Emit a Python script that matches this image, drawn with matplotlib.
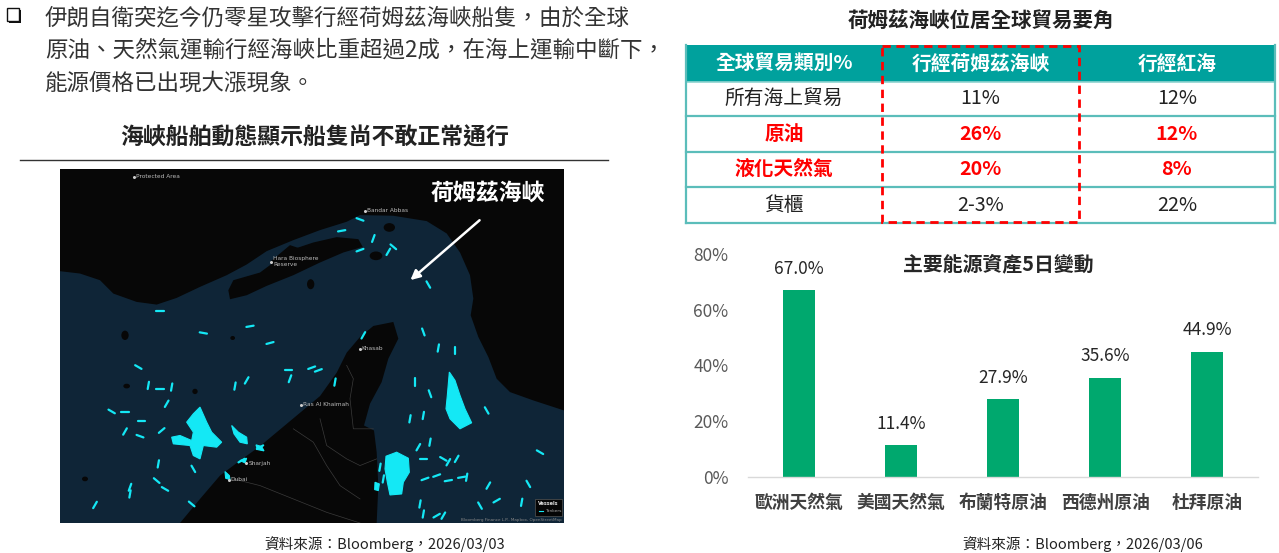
import matplotlib
matplotlib.use("Agg")
import matplotlib.pyplot as plt
from matplotlib.patches import Rectangle, Polygon, Ellipse, FancyArrowPatch
import numpy as np

plt.rcParams['font.family'] = ['Noto Sans CJK TC', 'DejaVu Sans']

# ---------------- data ----------------
bullet_lines = ["伊朗自衛突迄今仍零星攻擊行經荷姆茲海峽船隻，由於全球",
                "原油、天然氣運輸行經海峽比重超過2成，在海上運輸中斷下，",
                "能源價格已出現大漲現象。"]
map_title = "海峽船舶動態顯示船隻尚不敢正常通行"
map_label = "荷姆茲海峽"
source_left = "資料來源：Bloomberg，2026/03/03"
source_right = "資料來源：Bloomberg，2026/03/06"

table_title = "荷姆茲海峽位居全球貿易要角"
table_header = ["全球貿易類別%", "行經荷姆茲海峽", "行經紅海"]
table_rows = ["所有海上貿易", "原油", "液化天然氣", "貨櫃"]
hormuz_share = ["11%", "26%", "20%", "2-3%"]
redsea_share = ["12%", "12%", "8%", "22%"]
row_highlight = [False, True, True, False]

chart_title = "主要能源資產5日變動"
assets = ["歐洲天然氣", "美國天然氣", "布蘭特原油", "西德州原油", "杜拜原油"]
change_5d = [67.0, 11.4, 27.9, 35.6, 44.9]
yticks = [0, 20, 40, 60, 80]

W, H = 1279, 553
fig = plt.figure(figsize=(W / 100, H / 100), dpi=100)
fig.patch.set_facecolor("white")

def fx(x):
    return x / W

def fy(y):
    return 1 - y / H

# ---------------- left text ----------------
# bullet square with shadow
fig.add_artist(Rectangle((fx(9), fy(23)), 12 / W, 13 / H, facecolor="#111111",
                         edgecolor="none", transform=fig.transFigure))
fig.add_artist(Rectangle((fx(6.5), fy(20.5)), 12 / W, 13 / H, facecolor="white",
                         edgecolor="#111111", lw=1.0, transform=fig.transFigure))
for i, line in enumerate(bullet_lines):
    fig.text(fx(45), fy(18 + i * 32.5), line, fontsize=16.2, color="#333333",
             va="center", ha="left")
fig.text(fx(315), fy(138), map_title, fontsize=16.5, fontweight="bold",
         color="#222222", va="center", ha="center")
fig.add_artist(plt.Line2D([fx(20), fx(608)], [fy(159.5), fy(159.5)],
                          color="#333333", lw=1.0, transform=fig.transFigure))

# ---------------- map illustration ----------------
mx0, my0, mx1, my1 = 60, 169, 564, 523
axm = fig.add_axes([fx(mx0), fy(my1), (mx1 - mx0) / W, (my1 - my0) / H])
axm.set_xlim(0, 1512)
axm.set_ylim(1072, 12)
axm.axis("off")
sea = "#0f2537"
land = "#070707"
axm.add_patch(Rectangle((0, 12), 1512, 1060, facecolor=sea, edgecolor="none"))

iran = [(0, 12), (1512, 12), (1512, 735), (1420, 705), (1350, 680), (1310, 640),
        (1285, 575), (1255, 515), (1232, 450), (1240, 400), (1230, 330),
        (1200, 262), (1160, 205), (1100, 168), (1000, 152), (900, 150),
        (860, 170), (780, 195), (700, 225), (620, 258), (560, 298), (500, 330),
        (420, 365), (350, 398), (290, 418), (230, 410), (160, 385), (120, 345),
        (60, 325), (0, 318)]
axm.add_patch(Polygon(iran, closed=True, facecolor=land, edgecolor="none"))
qeshm = [(505, 375), (520, 345), (600, 322), (650, 285), (700, 252), (760, 232),
         (830, 216), (895, 222), (908, 245), (850, 262), (780, 292), (700, 330),
         (620, 362), (560, 390), (510, 402)]
axm.add_patch(Polygon(qeshm, closed=True, facecolor=land, edgecolor="none"))
hengam = [(630, 290), (690, 240), (720, 250), (700, 300), (650, 305)]
axm.add_patch(Polygon(hengam, closed=True, facecolor=land, edgecolor="none"))
for (cx, cy, w, h) in [(988, 187, 34, 26), (948, 272, 38, 26), (752, 357, 22, 30),
                       (195, 510, 22, 28), (290, 345, 60, 22), (518, 518, 14, 12),
                       (200, 662, 20, 14), (405, 678, 16, 16), (75, 940, 18, 14)]:
    axm.add_patch(Ellipse((cx, cy), w, h, facecolor=land, edgecolor="none"))

uae = [(360, 1072), (420, 1000), (480, 930), (540, 885), (600, 842), (660, 792),
       (720, 742), (780, 692), (830, 622), (860, 562), (900, 515), (940, 482),
       (1000, 470), (1015, 520), (985, 580), (965, 650), (930, 715), (912, 780),
       (942, 795), (950, 860), (955, 960), (950, 1072)]
axm.add_patch(Polygon(uae, closed=True, facecolor=land, edgecolor="none"))
# faint borders / roads
for pts in [[(860, 600), (880, 640), (870, 700), (880, 790), (940, 790)],
            [(700, 790), (760, 830), (800, 900), (840, 960), (900, 1000)],
            [(520, 940), (600, 960), (700, 1000), (800, 1040), (900, 1072)],
            [(780, 760), (800, 840), (860, 880), (900, 900), (950, 880)]]:
    xs, ys = zip(*pts)
    axm.plot(xs, ys, color="#3a3a3a", lw=0.5)

cyan = "#14e8f5"
ships = [(300, 437, 0), (430, 503, -10), (570, 483, 10), (630, 533, 15), (235, 605, -30),
         (265, 660, 80), (300, 670, 0), (335, 665, 80), (320, 715, 60), (155, 738, -30),
         (195, 740, 0), (245, 768, 0), (195, 798, 60), (305, 795, 40), (240, 812, -20),
         (560, 645, 60), (525, 662, 80), (690, 640, 70), (685, 615, 0), (755, 607, 20),
         (775, 615, 20), (825, 650, 80), (910, 510, 60), (1090, 500, -70), (1135, 548, 80),
         (1185, 555, 90), (1105, 358, -60), (845, 197, 10), (900, 163, -20), (940, 220, 70),
         (1000, 245, -40), (985, 260, 60), (900, 255, 20), (1280, 735, -60), (1440, 860, -30),
         (1065, 650, 90), (1110, 685, -70), (1090, 750, 80), (1050, 760, 80), (1110, 830, 80),
         (1075, 845, 60), (1150, 880, -30), (1165, 890, 60), (1190, 880, 60), (1090, 880, 0),
         (1095, 940, 20), (1130, 930, 20), (1165, 945, 10), (1205, 935, 10), (1220, 935, 80),
         (1285, 960, 60), (1405, 955, -60), (1260, 1020, -60), (1310, 1005, 30), (1385, 1010, 80),
         (1080, 1015, 80), (1090, 1045, 80), (1130, 1050, 30), (1150, 1050, 60), (970, 940, 80),
         (960, 905, 80), (295, 895, 80), (400, 910, -60), (290, 945, -40), (315, 970, -30),
         (210, 965, 70), (210, 985, 80), (105, 1018, 60), (395, 1015, -40), (600, 845, 30),
         (545, 885, 30)]
for (sx, sy, ang) in ships:
    a = np.deg2rad(ang)
    dx, dy = 11 * np.cos(a), -11 * np.sin(a)
    axm.plot([sx - dx, sx + dx], [sy - dy, sy + dy], color=cyan, lw=1.6,
             solid_capstyle="round")
clusters = [
    [(978, 872), (1010, 860), (1045, 878), (1048, 920), (1030, 950), (1025, 985),
     (990, 988), (982, 950), (975, 910)],
    [(1168, 620), (1185, 645), (1200, 690), (1215, 730), (1235, 772), (1200, 790),
     (1170, 760), (1158, 730), (1162, 690)],
    [(335, 815), (360, 810), (395, 825), (400, 800), (380, 770), (400, 745),
     (420, 725), (440, 770), (455, 800), (485, 830), (470, 845), (430, 840),
     (420, 880), (400, 870), (390, 840), (340, 835)],
    [(515, 780), (535, 800), (560, 815), (562, 835), (540, 830), (522, 805)],
    [(588, 838), (605, 843), (612, 856), (592, 852)],
    [(495, 918), (508, 930), (510, 942), (497, 938)],
    [(540, 885), (560, 878), (555, 892)],
    [(945, 950), (958, 955), (955, 975), (944, 972)],
]
for c in clusters:
    axm.add_patch(Polygon(c, closed=True, facecolor=cyan, edgecolor=cyan, lw=0.8))

for (tx, ty, lab) in [(920, 137, "Bandar Abbas"), (905, 550, "Khasab"),
                      (730, 718, "Ras Al Khaimah"), (565, 893, "Sharjah"),
                      (512, 942, "Dubai"), (640, 290, "Hara Biosphere\nReserve"),
                      (228, 35, "Protected Area")]:
    axm.plot(tx - 6, ty, marker="o", ms=1.2, color="#cccccc")
    axm.text(tx, ty, lab, fontsize=4.2, color="#bbbbbb", va="center", ha="left",
             family=["DejaVu Sans"])
axm.add_patch(Rectangle((1425, 1000), 80, 50, facecolor="#050505",
                        edgecolor="#555555", lw=0.5))
axm.text(1435, 1015, "Vessels", fontsize=3.5, color="#dddddd", va="center",
         family=["DejaVu Sans"], fontweight="bold")
axm.text(1455, 1036, "Tankers", fontsize=3.2, color="#aaaaaa", va="center",
         family=["DejaVu Sans"])
axm.plot([1437, 1448], [1036, 1036], color=cyan, lw=0.8)
axm.text(1505, 1064, "Bloomberg Finance L.P., Mapbox, OpenStreetMap", fontsize=3,
         color="#888888", va="center", ha="right", family=["DejaVu Sans"])
axm.text(1282, 85, map_label, fontsize=16.5, fontweight="bold", color="white",
         va="center", ha="center")
axm.add_patch(FancyArrowPatch((1265, 160), (1045, 350), arrowstyle="-|>",
                              mutation_scale=14, color="white", lw=1.8))

fig.text(fx(385), fy(544), source_left, fontsize=10.5, color="#222222",
         va="center", ha="center")

# ---------------- table ----------------
fig.text(fx(981), fy(20), table_title, fontsize=14.8, fontweight="bold",
         color="#222222", va="center", ha="center")
tx0, ty0, tx1, ty1 = 686, 45, 1275, 223
axt = fig.add_axes([fx(tx0), fy(ty1), (tx1 - tx0) / W, (ty1 - ty0) / H])
axt.set_xlim(0, 3)
axt.set_ylim(5, 0)
axt.axis("off")
teal = "#00A19D"
line_teal = "#5BBDBA"
axt.add_patch(Rectangle((0, 0), 3, 1.04, facecolor=teal, edgecolor="none"))
for j, h in enumerate(table_header):
    axt.text(j + 0.5, 0.52, h, fontsize=14.2, fontweight="bold", color="white",
             ha="center", va="center")
for i, (lab, v1, v2, hl) in enumerate(zip(table_rows, hormuz_share, redsea_share, row_highlight)):
    yc = i + 1.5
    col = "#FF0000" if hl else "#222222"
    wt = "bold" if hl else "normal"
    for j, t in enumerate([lab, v1, v2]):
        axt.text(j + 0.5, yc, t, fontsize=14.2, fontweight=wt, color=col,
                 ha="center", va="center")
    axt.plot([0, 3], [i + 2, i + 2], color=line_teal, lw=1.6, clip_on=False)
axt.plot([0, 3], [1.04, 1.04], color="#8fd3d0", lw=1.2)
axt.plot([0, 0], [0, 5], color=line_teal, lw=1.6, clip_on=False)
axt.plot([3, 3], [0, 5], color=line_teal, lw=1.6, clip_on=False)
axt.add_patch(Rectangle((1, 0.02), 1, 4.96, facecolor="none", edgecolor="#FF0000",
                        lw=2.0, linestyle=(0, (3, 2)), clip_on=False, zorder=5))

# ---------------- bar chart ----------------
bx0, bx1, by_top, by_bot = 748, 1258, 254, 477
axb = fig.add_axes([fx(bx0), fy(by_bot), (bx1 - bx0) / W, (by_bot - by_top) / H])
x = np.arange(len(assets))
bars = axb.bar(x, change_5d, width=0.32, color="#00A86E", zorder=2)
axb.set_xlim(-0.5, len(assets) - 0.5)
axb.set_ylim(0, 80)
axb.set_yticks(yticks)
axb.set_yticklabels([f"{v}%" for v in yticks], fontsize=12.5, color="#595959")
axb.tick_params(axis="y", length=0, pad=14)
axb.set_xticks(x)
axb.set_xticklabels(assets, fontsize=12.8, fontweight="bold", color="#404040")
axb.tick_params(axis="x", length=0, pad=12)
for s in ["top", "right", "left"]:
    axb.spines[s].set_visible(False)
axb.spines["bottom"].set_color("#d9d9d9")
axb.spines["bottom"].set_linewidth(1.0)
axb.set_facecolor("none")
for xi, v in zip(x, change_5d):
    axb.annotate(f"{v:.1f}%", (xi, v), xytext=(0, 9), textcoords="offset points",
                 ha="center", va="bottom", fontsize=12.5, color="#262626")
fig.text(fx(998), fy(264), chart_title, fontsize=14.3, fontweight="bold",
         color="#262626", va="center", ha="center")
fig.text(fx(1083), fy(544), source_right, fontsize=10.5, color="#222222",
         va="center", ha="center")

fig.savefig("out.png", dpi=100)
